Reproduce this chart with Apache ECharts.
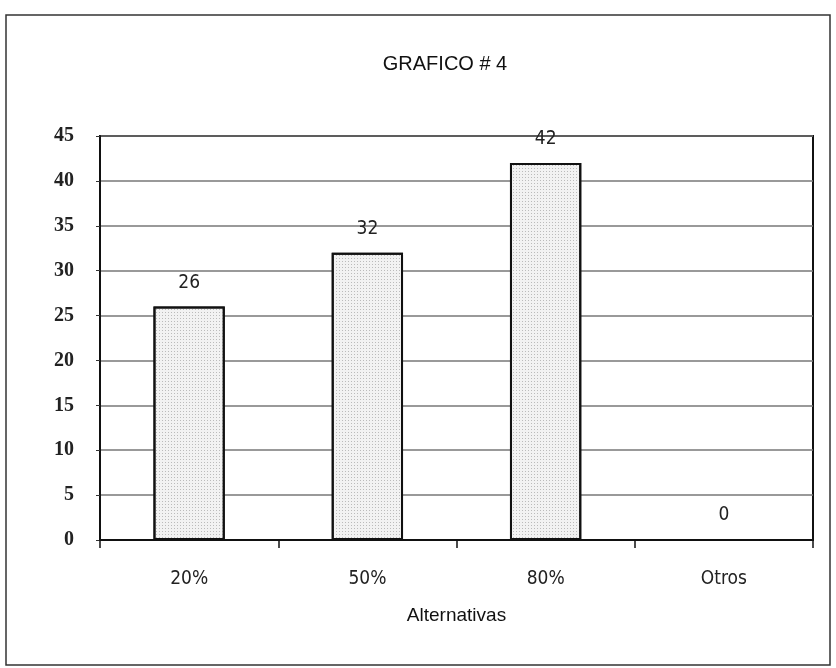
<!DOCTYPE html>
<html>
<head>
<meta charset="utf-8">
<script src="https://cdn.jsdelivr.net/npm/echarts@6/dist/echarts.min.js"></script>
<style>html,body{margin:0;padding:0;background:#fff}#c{width:836px;height:668px}</style>
</head>
<body>
<div id="c"></div>
<script>
const categories = ['20%', '50%', '80%', 'Otros'];
const values = [26, 32, 42, 0];
const yTicks = [0, 5, 10, 15, 20, 25, 30, 35, 40, 45];
const titleText = 'GRAFICO # 4';
const xAxisName = 'Alternativas';

const chart = echarts.init(document.getElementById('c'), null, {renderer: 'canvas'});
chart.setOption({
  backgroundColor: '#ffffff',
  animation: false,
  title: {
    text: titleText, left: 440, top: 49, textAlign: 'center',
    textStyle: {fontFamily: 'Liberation Sans', fontSize: 20, fontWeight: 'normal', color: '#111'}
  },
  graphic: [{
    type: 'rect', shape: {x: 6, y: 15, width: 824, height: 650},
    style: {fill: 'none', stroke: '#333', lineWidth: 1.5}, silent: true
  }],
  grid: {left: 100, top: 136, width: 713, height: 404, show: true, borderColor: '#111', borderWidth: 2, backgroundColor: 'transparent'},
  xAxis: {
    type: 'category', data: categories,
    name: xAxisName, nameLocation: 'middle', nameGap: 66,
    nameTextStyle: {fontFamily: 'Liberation Sans', fontSize: 19, color: '#111'},
    axisLine: {lineStyle: {color: '#111', width: 2}},
    axisTick: {show: true, length: 8, lineStyle: {color: '#111', width: 1.5}},
    axisLabel: {margin: 30, fontFamily: "'DejaVu Sans Condensed', 'Liberation Sans'", fontSize: 19, color: '#222'}
  },
  yAxis: {
    type: 'value', min: yTicks[0], max: yTicks[yTicks.length - 1], interval: yTicks[1] - yTicks[0],
    axisLine: {show: true, lineStyle: {color: '#111', width: 2}},
    axisTick: {show: true, length: 4, lineStyle: {color: '#333'}},
    axisLabel: {margin: 26, fontFamily: 'Liberation Serif', fontSize: 20, fontWeight: 'bold', color: '#222'},
    splitLine: {show: true, lineStyle: {color: '#777', width: 1.5}}
  },
  series: [{
    type: 'bar', data: values, barWidth: '40%',
    itemStyle: {
      color: '#f2f2f2', borderColor: '#111', borderWidth: 2,
      decal: {symbol: 'rect', symbolSize: 1, dashArrayX: [[1, 2]], dashArrayY: [1, 2], color: 'rgba(120,120,120,0.45)'}
    },
    label: {show: true, position: 'top', distance: 14, fontFamily: "'DejaVu Sans Condensed', 'Liberation Sans'", fontSize: 19, color: '#222'}
  }]
});
</script>
</body>
</html>
